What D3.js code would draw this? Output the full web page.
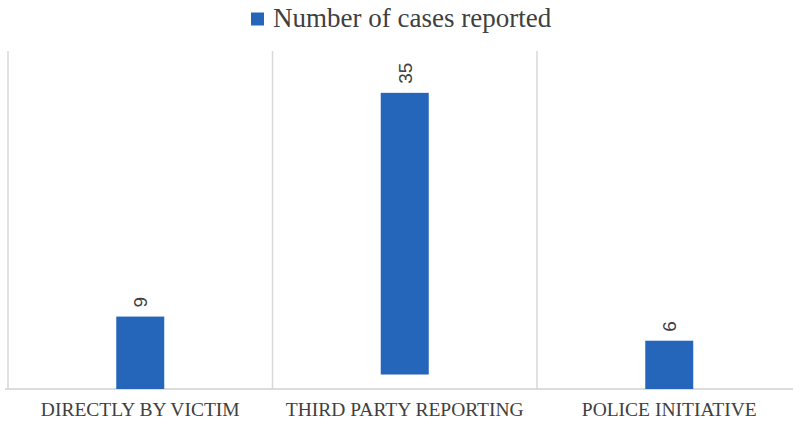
<!DOCTYPE html>
<html>
<head>
<meta charset="utf-8">
<script src="https://cdn.jsdelivr.net/npm/d3@7"></script>
<style>
  body { margin: 0; background: #fff; }
  svg { display: block; }
</style>
</head>
<body>
<svg id="canvas"></svg>
<script>
let categories = ["DIRECTLY BY VICTIM", "THIRD PARTY REPORTING", "POLICE INITIATIVE"]
let cases = [9, 35, 6]
// the middle bar sits a little off the axis in the picture
let lift = [0, 1.8, 0]
let seriesName = "Number of cases reported"

let width = 793
let height = 422
let barColor = "#2566BB"

let canvas = d3.select("#canvas")
    .attr("width", width)
    .attr("height", height)

let xScale = d3.scaleBand()
    .domain(categories)
    .range([8, 801.5])

let yScale = d3.scaleLinear()
    .domain([0, 42])
    .range([389, 51])

let barWidth = 48

// category dividers
canvas.selectAll("line.grid")
    .data(categories)
    .enter()
    .append("line")
    .attr("class", "grid")
    .attr("x1", d => xScale(d))
    .attr("x2", d => xScale(d))
    .attr("y1", yScale(42))
    .attr("y2", yScale(0))
    .attr("stroke", "#d9d9d9")
    .attr("stroke-width", 1.5)

// baseline
canvas.append("line")
    .attr("x1", 5)
    .attr("x2", width)
    .attr("y1", yScale(0))
    .attr("y2", yScale(0))
    .attr("stroke", "#d0d0d0")
    .attr("stroke-width", 1.5)

let rows = categories.map((c, i) => ({ cat: c, value: cases[i], base: lift[i] }))

canvas.selectAll("rect.bar")
    .data(rows)
    .enter()
    .append("rect")
    .attr("class", "bar")
    .attr("x", d => xScale(d.cat) + xScale.bandwidth() / 2 - barWidth / 2)
    .attr("width", barWidth)
    .attr("y", d => yScale(d.base + d.value))
    .attr("height", d => yScale(d.base) - yScale(d.base + d.value))
    .attr("fill", barColor)

// value labels, turned on their side
canvas.selectAll("text.value")
    .data(rows)
    .enter()
    .append("text")
    .attr("class", "value")
    .attr("transform", d => "translate(" + (xScale(d.cat) + xScale.bandwidth() / 2) + "," + (yScale(d.base + d.value) - 9) + ") rotate(-90)")
    .attr("dy", "0.36em")
    .attr("text-anchor", "start")
    .attr("font-family", "'Liberation Sans', Arial, sans-serif")
    .attr("font-size", 19)
    .attr("fill", "#404040")
    .text(d => d.value)

// category labels
canvas.selectAll("text.cat")
    .data(categories)
    .enter()
    .append("text")
    .attr("class", "cat")
    .attr("x", d => xScale(d) + xScale.bandwidth() / 2)
    .attr("y", 416)
    .attr("text-anchor", "middle")
    .attr("font-family", "'Liberation Serif', 'Times New Roman', serif")
    .attr("font-size", 19.5)
    .attr("fill", "#404040")
    .text(d => d)

// legend
let legend = canvas.append("g")
legend.append("rect")
    .attr("x", 251)
    .attr("y", 12.5)
    .attr("width", 13)
    .attr("height", 13)
    .attr("fill", barColor)
legend.append("text")
    .attr("x", 273)
    .attr("y", 27)
    .attr("font-family", "'Liberation Serif', 'Times New Roman', serif")
    .attr("font-size", 27)
    .attr("fill", "#404040")
    .text(seriesName)
</script>
</body>
</html>
